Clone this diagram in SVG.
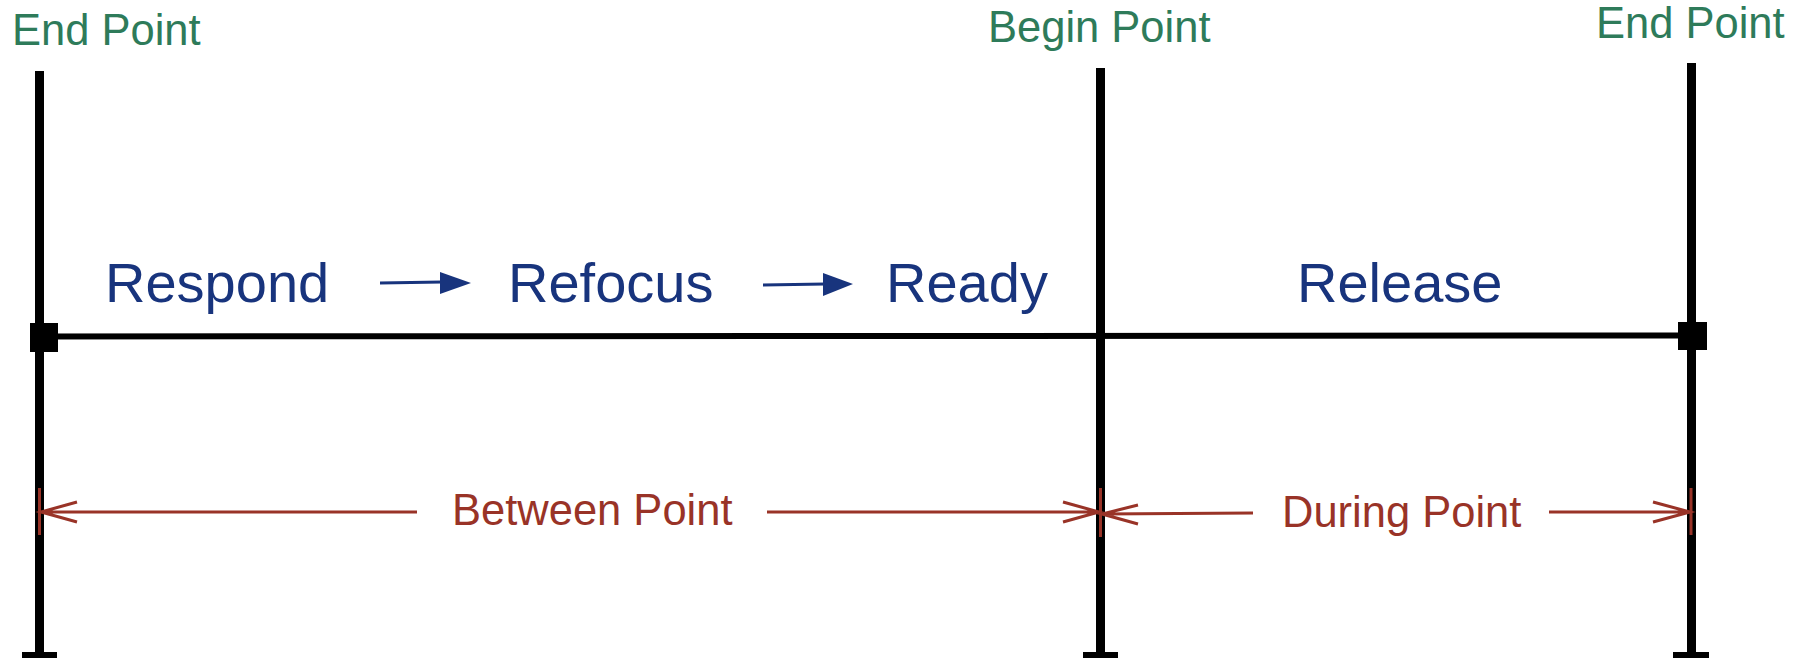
<svg xmlns="http://www.w3.org/2000/svg" width="1804" height="658" viewBox="0 0 1804 658">
<style>
.green{font-family:"Liberation Sans",Arial,sans-serif;font-size:43.5px;fill:#2e7b5a}
.blue{font-family:"Liberation Sans",Arial,sans-serif;font-size:56px;fill:#18347d}
.red{font-family:"Liberation Sans",Arial,sans-serif;font-size:43.5px;fill:#993327}
.post{fill:#000}
.rline{stroke:#993327;stroke-width:3;fill:none}
.bline{stroke:#18347d;stroke-width:3;fill:none}
.bhead{fill:#18347d}
</style>
<rect width="1804" height="658" fill="#fff"/>
<g id="left-post">
<rect class="post" x="35" y="71" width="9" height="587"/>
<rect class="post" x="22" y="652" width="35" height="6"/>
<rect class="post" x="30" y="323" width="28" height="29"/>
<text class="green" x="12" y="45">End Point</text>
</g>
<g id="middle-post">
<rect class="post" x="1096" y="68" width="9" height="590"/>
<rect class="post" x="1083" y="652" width="35" height="6"/>
<text class="green" x="988" y="42">Begin Point</text>
</g>
<g id="right-post">
<rect class="post" x="1687" y="63" width="9" height="595"/>
<rect class="post" x="1673" y="652" width="36" height="6"/>
<rect class="post" x="1678" y="322" width="29" height="28"/>
<text class="green" x="1596" y="38">End Point</text>
</g>
<g id="stages">
<text id="respond" class="blue" x="105" y="302">Respond</text>
<text id="refocus" class="blue" x="508" y="302">Refocus</text>
<text id="ready" class="blue" x="886" y="302">Ready</text>
<text id="release" class="blue" x="1297" y="302">Release</text>
</g>
<g id="labels">
<text id="between" class="red" x="452" y="525">Between Point</text>
<text id="during" class="red" x="1282" y="527">During Point</text>
</g>
<g id="connectors">
<path d="M44 336.5 L1692 335.5" stroke="#000" stroke-width="6" fill="none"/>
<path class="bline" d="M380 283 L442 282"/>
<polygon class="bhead" points="440,272 471,283 440,294"/>
<path class="bline" d="M763 285 L825 284"/>
<polygon class="bhead" points="823,273 853,284 823,296"/>
<path class="rline" d="M39.5 488 V535 M1100.5 488 V537 M1691 488 V535"/>
<path class="rline" d="M417 512 L41 512 M77 502 L41 512 L77 522"/>
<path class="rline" d="M767 512 L1099 512 M1063 502 L1099 512 L1063 522"/>
<path class="rline" d="M1253 513 L1102 514 M1138 505 L1102 514 L1138 524"/>
<path class="rline" d="M1549 512 L1690 512 M1653 502 L1690 512 L1653 522"/>
</g>
</svg>
